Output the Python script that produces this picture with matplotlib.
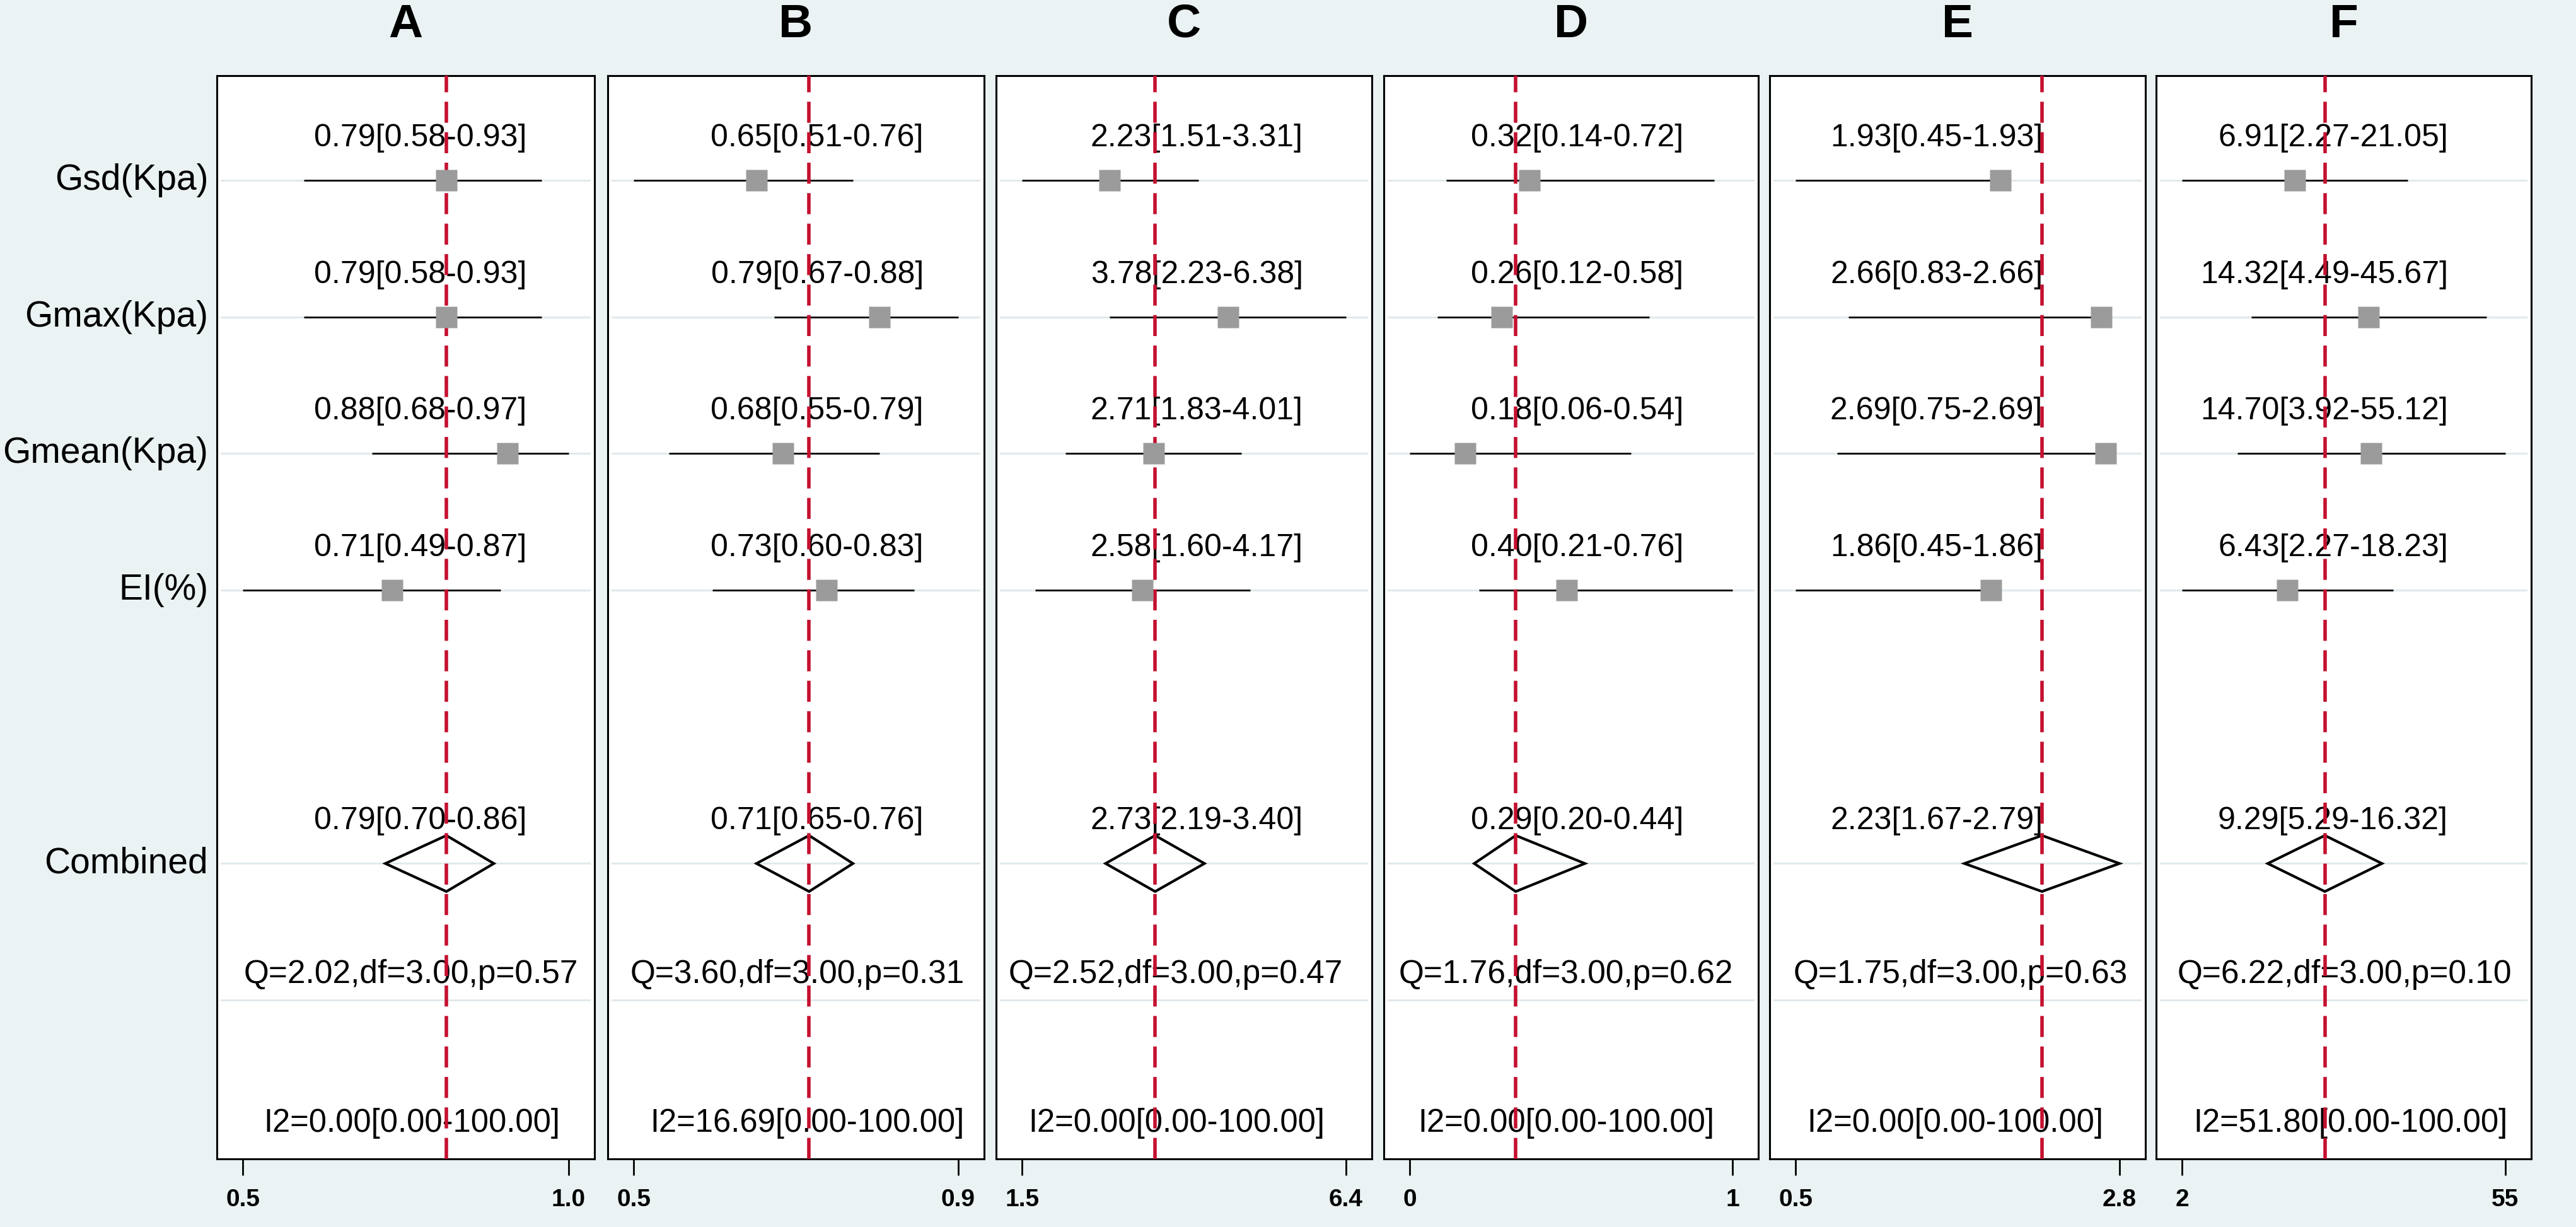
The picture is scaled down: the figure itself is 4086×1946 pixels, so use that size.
import numpy as np
import matplotlib.pyplot as plt
from matplotlib.patches import Polygon
from matplotlib.ticker import NullLocator
from matplotlib.transforms import blended_transform_factory

plt.rcParams['font.family'] = ['Liberation Sans', 'DejaVu Sans']

panels = ['A', 'B', 'C', 'D', 'E', 'F']
studies = ['Gsd(Kpa)', 'Gmax(Kpa)', 'Gmean(Kpa)', 'EI(%)']

est = [[0.79, 0.79, 0.88, 0.71],
       [0.65, 0.79, 0.68, 0.73],
       [2.23, 3.78, 2.71, 2.58],
       [0.32, 0.26, 0.18, 0.40],
       [1.93, 2.66, 2.69, 1.86],
       [6.91, 14.32, 14.70, 6.43]]
lower = [[0.58, 0.58, 0.68, 0.49],
         [0.51, 0.67, 0.55, 0.60],
         [1.51, 2.23, 1.83, 1.60],
         [0.14, 0.12, 0.06, 0.21],
         [0.45, 0.83, 0.75, 0.45],
         [2.27, 4.49, 3.92, 2.27]]
upper = [[0.93, 0.93, 0.97, 0.87],
         [0.76, 0.88, 0.79, 0.83],
         [3.31, 6.38, 4.01, 4.17],
         [0.72, 0.58, 0.54, 0.76],
         [1.93, 2.66, 2.69, 1.86],
         [21.05, 45.67, 55.12, 18.23]]

pooled = [0.79, 0.71, 2.73, 0.29, 2.23, 9.29]
pooled_lo = [0.70, 0.65, 2.19, 0.20, 1.67, 5.29]
pooled_hi = [0.86, 0.76, 3.40, 0.44, 2.79, 16.32]

q_val = [2.02, 3.60, 2.52, 1.76, 1.75, 6.22]
q_df = [3.00, 3.00, 3.00, 3.00, 3.00, 3.00]
q_p = [0.57, 0.31, 0.47, 0.62, 0.63, 0.10]
i2_val = [0.00, 16.69, 0.00, 0.00, 0.00, 51.80]
i2_lo = [0.00, 0.00, 0.00, 0.00, 0.00, 0.00]
i2_hi = [100.00, 100.00, 100.00, 100.00, 100.00, 100.00]

tick_labels = [['0.5', '1.0'], ['0.5', '0.9'], ['1.5', '6.4'],
               ['0', '1'], ['0.5', '2.8'], ['2', '55']]
log_axis = [False, False, True, False, False, True]

# layout (pixels of the 4086 x 1946 canvas)
W, H = 4086, 1946
lefts = [344, 964, 1580, 2195, 2807, 3420]
widths = [599, 597, 596, 594, 596, 595]
top_px, bot_px = 120, 1838
label_right = [0.82, 0.839, 0.817, 0.80, 0.727, 0.778]
q_x = [0.514, 0.504, 0.478, 0.487, 0.508, 0.502]
i2_x = [0.517, 0.53, 0.48, 0.488, 0.494, 0.519]

bg = '#eaf2f3'
red = '#c4102f'

fig = plt.figure(figsize=(W / 100, H / 100), dpi=100, facecolor=bg)

rows = [1, 2, 3, 4]
comb_row = 6
q_row = 7
i2_row = 8

for i, name in enumerate(panels):
    ax = fig.add_axes([lefts[i] / W, (H - bot_px) / H, widths[i] / W,
                       (bot_px - top_px) / H])
    ax.set_facecolor('white')

    lo_all = min(lower[i] + [pooled_lo[i]])
    hi_all = max(upper[i] + [pooled_hi[i]])
    if log_axis[i]:
        ax.set_xscale('log')
        a, b = np.log(lo_all), np.log(hi_all)
        pad = 0.08 * (b - a)
        ax.set_xlim(np.exp(a - pad), np.exp(b + pad))
    else:
        pad = 0.08 * (hi_all - lo_all)
        ax.set_xlim(lo_all - pad, hi_all + pad)
    ax.set_ylim(8.162, 0.234)

    for r in rows + [comb_row, q_row]:
        ax.axhline(r, xmin=0.012, xmax=0.986, color='#e1e9ec', lw=2.2, zorder=1)

    ax.axvline(pooled[i], color=red, lw=4, dashes=(6, 2.7), zorder=3.5)

    tr = blended_transform_factory(ax.transAxes, ax.transData)
    for k, r in enumerate(rows):
        ax.plot([lower[i][k], upper[i][k]], [r, r], color='black', lw=2,
                solid_capstyle='butt', zorder=2.5)
        ax.plot(est[i][k], r, marker='s', ms=24.5, color='#9b9b9b',
                mec='none', zorder=4)
        ax.text(label_right[i], r - 0.31,
                '%.2f[%.2f-%.2f]' % (est[i][k], lower[i][k], upper[i][k]),
                transform=tr, ha='right', va='center', fontsize=36, zorder=3)

    h = 0.205
    diamond = Polygon([(pooled_lo[i], comb_row), (pooled[i], comb_row - h),
                       (pooled_hi[i], comb_row), (pooled[i], comb_row + h)],
                      closed=True, fill=False, edgecolor='black', lw=3,
                      joinstyle='miter', zorder=3)
    ax.add_patch(diamond)
    ax.text(label_right[i], comb_row - 0.31,
            '%.2f[%.2f-%.2f]' % (pooled[i], pooled_lo[i], pooled_hi[i]),
            transform=tr, ha='right', va='center', fontsize=36, zorder=3)

    ax.text(q_x[i], q_row - 0.19,
            'Q=%.2f,df=%.2f,p=%.2f' % (q_val[i], q_df[i], q_p[i]),
            transform=tr, ha='center', va='center', fontsize=37, zorder=3)
    ax.text(i2_x[i], i2_row - 0.10,
            'I2=%.2f[%.2f-%.2f]' % (i2_val[i], i2_lo[i], i2_hi[i]),
            transform=tr, ha='center', va='center', fontsize=36.5, zorder=3)

    ax.set_xticks([lo_all, hi_all])
    ax.set_xticklabels(tick_labels[i], fontweight='bold')
    ax.xaxis.set_minor_locator(NullLocator())
    ax.tick_params(axis='x', direction='out', length=19, width=2,
                   labelsize=28, pad=15, colors='black')
    ax.set_yticks([])
    for sp in ax.spines.values():
        sp.set_linewidth(2.2)
        sp.set_color('black')

    ax.text(0.5, 1.047, name, transform=ax.transAxes, ha='center',
            va='center', fontsize=54, fontweight='bold')

    if i == 0:
        for lab, r in zip(studies + ['Combined'], rows + [comb_row]):
            ax.text(-0.023, r, lab, transform=tr, ha='right', va='center',
                    fontsize=41)

fig.savefig('out.png', dpi=100, facecolor=bg)
